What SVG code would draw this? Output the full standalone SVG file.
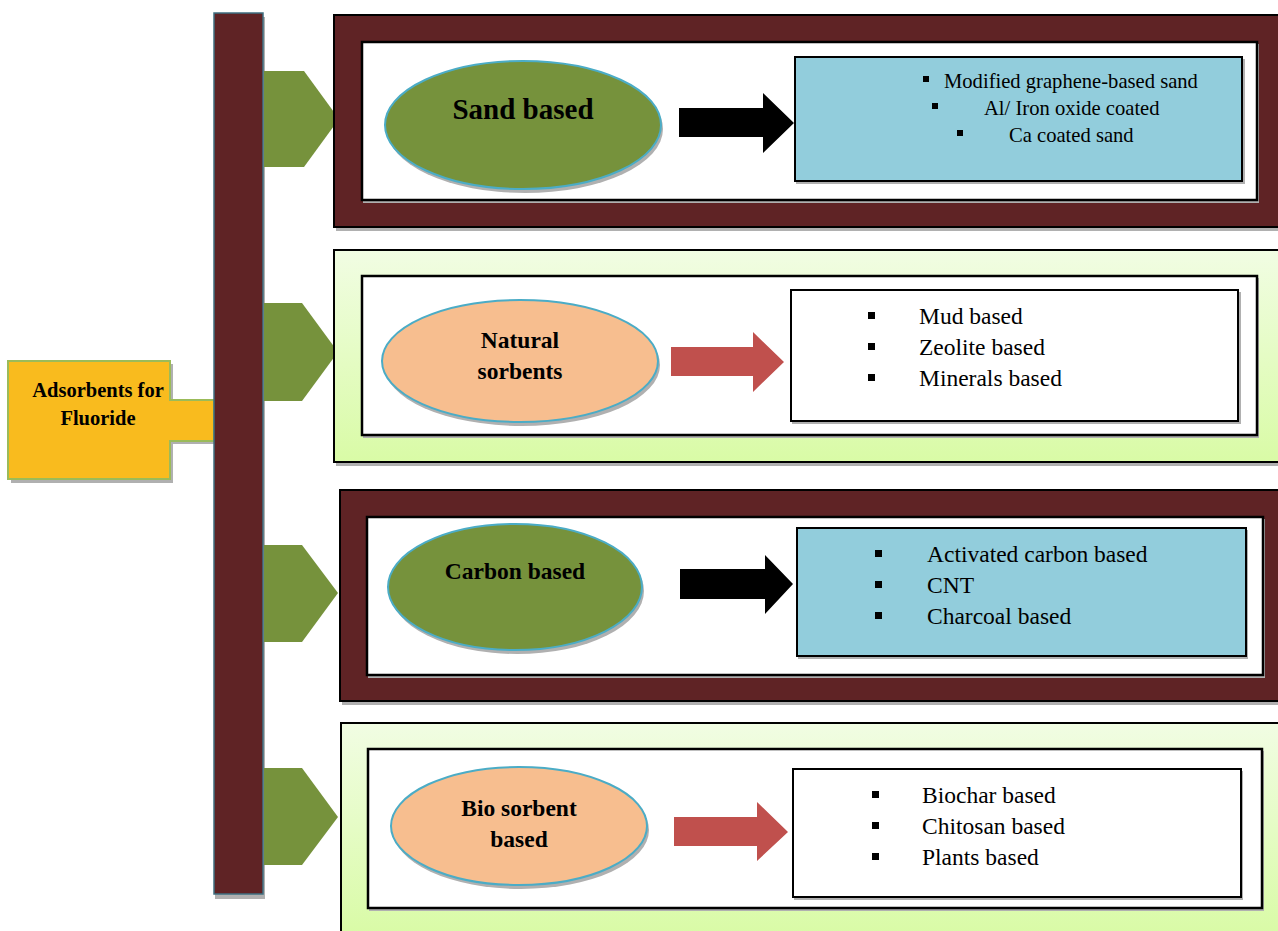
<svg xmlns="http://www.w3.org/2000/svg" width="1278" height="931" viewBox="0 0 1278 931">
  <defs>
    <linearGradient id="lime" x1="0" y1="0" x2="0" y2="1">
      <stop offset="0" stop-color="#f1fde3"/>
      <stop offset="1" stop-color="#d9fba6"/>
    </linearGradient>
    <style>
      .txt { font-family: "Liberation Serif", "Times New Roman", serif; fill: #000; }
      .lbl { font-weight: bold; text-anchor: middle; font-size: 23.5px; }
      .item { font-size: 23.5px; }
      .small { font-size: 20.6px; }
      .shadow { fill: #b0b0b0; }
      .frame-dark { fill: #5f2325; stroke: #000; stroke-width: 2; }
      .frame-lime { fill: url(#lime); stroke: #000; stroke-width: 2; }
      .inner { fill: #fff; stroke: #000; stroke-width: 2.5; }
      .list-blue { fill: #92cddc; stroke: #000; stroke-width: 2; }
      .list-white { fill: #fff; stroke: #000; stroke-width: 2; }
      .oval-green { fill: #76923c; stroke: #4bacc6; stroke-width: 2; }
      .oval-peach { fill: #f7be8f; stroke: #4bacc6; stroke-width: 2; }
      .tab { fill: #76923c; }
      .arrow-black { fill: #000; }
      .arrow-red { fill: #c0504d; }
      .bullet { fill: #000; }
    </style>
  </defs>

  <rect width="1278" height="931" fill="#fff"/>

  <!-- root node -->
  <g id="root">
    <path class="shadow" d="M11 364 H173 V403 H217 V444 H173 V483 H11 Z"/>
    <path d="M8 361 H170 V400 H214 V441 H170 V479 H8 Z" fill="#f9bb1e" stroke="#9bbb59" stroke-width="2"/>
    <text class="txt lbl" x="98" y="397" style="font-size:20.5px">Adsorbents for</text>
    <text class="txt lbl" x="98" y="425" style="font-size:20.5px">Fluoride</text>
  </g>

  <!-- spine and branch tabs -->
  <g id="connectors">
    <rect class="shadow" x="215" y="17" width="50" height="882"/>
    <rect x="214" y="13" width="49" height="881" fill="#5f2325" stroke="#3f6f80" stroke-width="1.5"/>
    <polygon class="tab" points="264,71 304,71 339,119 304,167 264,167"/>
    <polygon class="tab" points="264,303 302,303 338,352 302,401 264,401"/>
    <polygon class="tab" points="264,545 302,545 338,593 302,642 264,642"/>
    <polygon class="tab" points="264,768 302,768 338,817 302,865 264,865"/>
  </g>

  <!-- Sand based -->
  <g id="sand">
    <rect class="shadow" x="336" y="18" width="944" height="213"/>
    <rect class="frame-dark" x="334" y="15" width="946" height="212"/>
    <rect class="shadow" x="363" y="44" width="896" height="159"/>
    <rect class="inner" x="362" y="42" width="895" height="158"/>
    <ellipse class="shadow" cx="525" cy="129" rx="138" ry="64"/>
    <ellipse class="oval-green" cx="523" cy="125" rx="138" ry="64"/>
    <text class="txt lbl" x="523" y="119" style="font-size:29px">Sand based</text>
    <polygon class="arrow-black" points="679,108 763,108 763,93 794,123 763,153 763,137 679,137"/>
    <rect class="shadow" x="796" y="59" width="449" height="125"/>
    <rect class="list-blue" x="795" y="57" width="447" height="124"/>
    <rect class="bullet" x="923" y="76" width="6" height="6"/>
    <text class="txt small" x="944" y="88">Modified graphene-based sand</text>
    <rect class="bullet" x="932" y="103" width="6" height="6"/>
    <text class="txt small" x="984" y="115">Al/ Iron oxide coated</text>
    <rect class="bullet" x="957" y="130" width="6" height="6"/>
    <text class="txt small" x="1009" y="142">Ca coated sand</text>
  </g>

  <!-- Natural sorbents -->
  <g id="natural">
    <rect class="shadow" x="336" y="253" width="944" height="213"/>
    <rect class="frame-lime" x="334" y="250" width="946" height="212"/>
    <rect class="shadow" x="363" y="278" width="896" height="160"/>
    <rect class="inner" x="362" y="276" width="895" height="159"/>
    <ellipse class="shadow" cx="522" cy="365" rx="138" ry="61"/>
    <ellipse class="oval-peach" cx="520" cy="361" rx="138" ry="61"/>
    <text class="txt lbl" x="520" y="348">Natural</text>
    <text class="txt lbl" x="520" y="379">sorbents</text>
    <polygon class="arrow-red" points="671,347 753,347 753,332 784,362 753,392 753,376 671,376"/>
    <rect class="shadow" x="792" y="292" width="449" height="132"/>
    <rect class="list-white" x="791" y="290" width="447" height="131"/>
    <rect class="bullet" x="868" y="312" width="7" height="7"/>
    <text class="txt item" x="919" y="324">Mud based</text>
    <rect class="bullet" x="868" y="343" width="7" height="7"/>
    <text class="txt item" x="919" y="355">Zeolite based</text>
    <rect class="bullet" x="868" y="374" width="7" height="7"/>
    <text class="txt item" x="919" y="386">Minerals based</text>
  </g>

  <!-- Carbon based -->
  <g id="carbon">
    <rect class="shadow" x="342" y="493" width="938" height="212"/>
    <rect class="frame-dark" x="340" y="490" width="940" height="211"/>
    <rect class="shadow" x="368" y="519" width="897" height="159"/>
    <rect class="inner" x="367" y="517" width="896" height="158"/>
    <ellipse class="shadow" cx="517" cy="591" rx="127" ry="63"/>
    <ellipse class="oval-green" cx="515" cy="587" rx="127" ry="63"/>
    <text class="txt lbl" x="515" y="579">Carbon based</text>
    <polygon class="arrow-black" points="680,569 765,569 765,555 793,584 765,614 765,599 680,599"/>
    <rect class="shadow" x="798" y="530" width="450" height="129"/>
    <rect class="list-blue" x="797" y="528" width="449" height="128"/>
    <rect class="bullet" x="875" y="550" width="7" height="7"/>
    <text class="txt item" x="927" y="562">Activated carbon based</text>
    <rect class="bullet" x="875" y="581" width="7" height="7"/>
    <text class="txt item" x="927" y="593">CNT</text>
    <rect class="bullet" x="875" y="612" width="7" height="7"/>
    <text class="txt item" x="927" y="624">Charcoal based</text>
  </g>

  <!-- Bio sorbent based -->
  <g id="bio">
    <rect class="shadow" x="343" y="726" width="937" height="210"/>
    <rect class="frame-lime" x="341" y="723" width="939" height="212"/>
    <rect class="shadow" x="369" y="751" width="895" height="160"/>
    <rect class="inner" x="368" y="749" width="894" height="159"/>
    <ellipse class="shadow" cx="521" cy="830" rx="128" ry="59"/>
    <ellipse class="oval-peach" cx="519" cy="826" rx="128" ry="59"/>
    <text class="txt lbl" x="519" y="816">Bio sorbent</text>
    <text class="txt lbl" x="519" y="847">based</text>
    <polygon class="arrow-red" points="674,817 757,817 757,802 788,832 757,861 757,846 674,846"/>
    <rect class="shadow" x="794" y="771" width="449" height="129"/>
    <rect class="list-white" x="793" y="769" width="448" height="128"/>
    <rect class="bullet" x="872" y="791" width="7" height="7"/>
    <text class="txt item" x="922" y="803">Biochar based</text>
    <rect class="bullet" x="872" y="822" width="7" height="7"/>
    <text class="txt item" x="922" y="834">Chitosan based</text>
    <rect class="bullet" x="872" y="853" width="7" height="7"/>
    <text class="txt item" x="922" y="865">Plants based</text>
  </g>
</svg>
